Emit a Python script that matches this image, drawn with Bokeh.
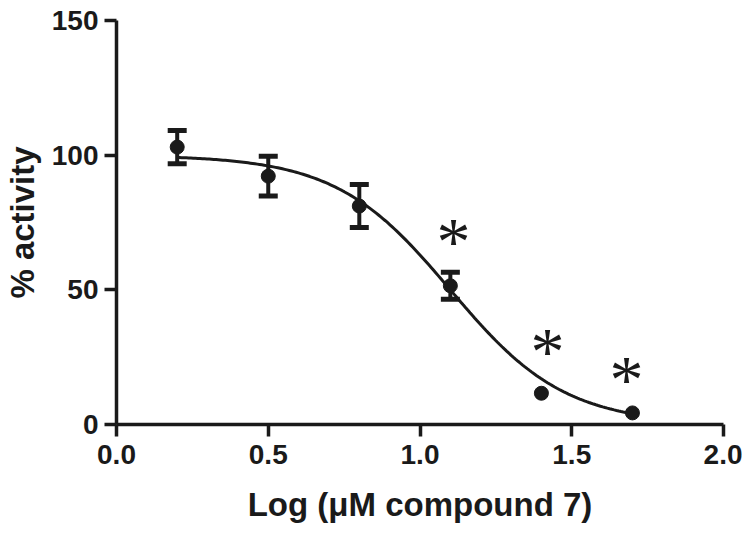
import numpy as np
from bokeh.plotting import figure
from bokeh.models import Range1d, FixedTicker, Whisker, TeeHead, ColumnDataSource, CustomJSTickFormatter
from bokeh.core.properties import value
from bokeh.embed import file_html
from bokeh.resources import INLINE

# ---- data ----
log_conc = [0.2, 0.5, 0.8, 1.1, 1.4, 1.7]
activity = [103.0, 92.2, 81.1, 51.5, 11.6, 4.3]
sem = [6.2, 7.4, 8.0, 5.0, 0.0, 0.0]
sig_x = [1.11, 1.42, 1.68]
sig_y = [70.0, 29.3, 18.9]
sig_text = ["*", "*", "*"]
x_ticks = [0.0, 0.5, 1.0, 1.5, 2.0]
y_ticks = [0, 50, 100, 150]
# fitted sigmoidal dose-response parameters
fit_top = 100.0
fit_bottom = 0.0
fit_logic50 = 1.1
fit_hill = -2.3

FONT = "Liberation Sans"

p = figure(width=742, height=525, x_range=Range1d(0, 2), y_range=Range1d(0, 150),
           output_backend="svg", toolbar_location=None,
           min_border_left=116, min_border_right=19, min_border_top=20, min_border_bottom=101)
p.outline_line_color = None
p.xgrid.visible = False
p.ygrid.visible = False

for ax in (p.xaxis[0], p.yaxis[0]):
    ax.axis_line_width = 3.5
    ax.axis_line_color = "#1a1a1a"
    ax.major_tick_line_width = 3.5
    ax.major_tick_line_color = "#1a1a1a"
    ax.major_tick_out = 12
    ax.major_tick_in = 0
    ax.minor_tick_line_color = None
    ax.major_label_text_font = FONT
    ax.major_label_text_font_style = "bold"
    ax.major_label_text_font_size = "28px"
    ax.major_label_text_color = "#1a1a1a"
    ax.axis_label_text_font = FONT
    ax.axis_label_text_font_style = "bold"
    ax.axis_label_text_font_size = "33px"
    ax.axis_label_text_color = "#1a1a1a"

p.xaxis.ticker = FixedTicker(ticks=x_ticks)
p.xaxis.formatter = CustomJSTickFormatter(code="return tick.toFixed(1);")
p.yaxis.ticker = FixedTicker(ticks=y_ticks)
p.xaxis.axis_label = "Log (\u03bcM compound 7)"
p.yaxis.axis_label = "% activity"
p.xaxis.major_label_standoff = 8
p.yaxis.major_label_standoff = 6
p.xaxis.axis_label_standoff = 19
p.yaxis.axis_label_standoff = 8

# fitted curve
xc = np.linspace(log_conc[0], log_conc[-1], 200)
yc = fit_bottom + (fit_top - fit_bottom) / (1 + 10 ** ((fit_logic50 - xc) * fit_hill))
p.line(xc, yc, line_width=3, line_color="#1a1a1a")

# error bars (only where visible beyond symbol)
idx = [i for i, e in enumerate(sem) if e > 0]
err_src = ColumnDataSource(dict(
    x=[log_conc[i] for i in idx],
    lo=[activity[i] - sem[i] for i in idx],
    hi=[activity[i] + sem[i] for i in idx]))
w = Whisker(base="x", lower="lo", upper="hi", source=err_src, dimension="height",
            line_width=4, line_color="#1a1a1a",
            upper_head=TeeHead(size=19, line_width=5, line_color="#1a1a1a"),
            lower_head=TeeHead(size=19, line_width=5, line_color="#1a1a1a"))
p.add_layout(w)

p.scatter(log_conc, activity, size=14, marker="circle", fill_color="#1a1a1a", line_color="#1a1a1a")

# significance asterisks
p.text(sig_x, sig_y, text=sig_text, text_font=value("Liberation Serif"), text_font_size="68px",
       text_align="center", text_baseline="alphabetic", text_color="#1a1a1a", y_offset=5)

open("out.html", "w").write(file_html(p, INLINE))
